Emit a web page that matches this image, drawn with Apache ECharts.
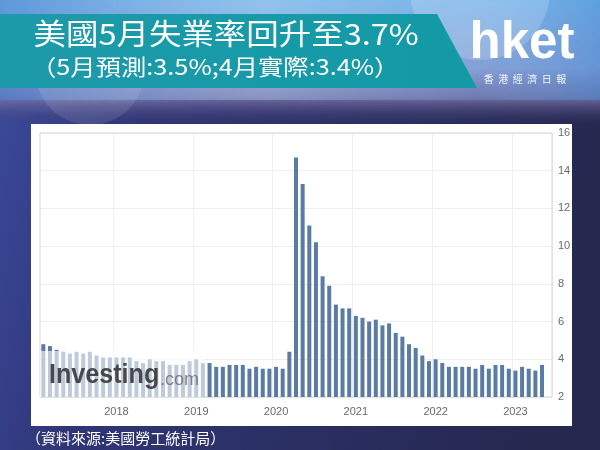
<!DOCTYPE html>
<html><head><meta charset="utf-8">
<script src="https://cdn.jsdelivr.net/npm/echarts@6/dist/echarts.min.js"></script>
<style>html,body{margin:0;padding:0;background:#2a2d5c;}#c{width:600px;height:450px;}</style>
</head><body><div id="c"></div>
<script>
// Release months (bar positions) – each bar is the rate published that month
const categories = [
 '2017-02','2017-03','2017-04','2017-05','2017-06','2017-07','2017-08','2017-09','2017-10','2017-11','2017-12',
 '2018-01','2018-02','2018-03','2018-04','2018-05','2018-06','2018-07','2018-08','2018-09','2018-10','2018-11','2018-12',
 '2019-01','2019-02','2019-03','2019-04','2019-05','2019-06','2019-07','2019-08','2019-09','2019-10','2019-11','2019-12',
 '2020-01','2020-02','2020-03','2020-04','2020-05','2020-06','2020-07','2020-08','2020-09','2020-10','2020-11','2020-12',
 '2021-01','2021-02','2021-03','2021-04','2021-05','2021-06','2021-07','2021-08','2021-09','2021-10','2021-11','2021-12',
 '2022-01','2022-02','2022-03','2022-04','2022-05','2022-06','2022-07','2022-08','2022-09','2022-10','2022-11','2022-12',
 '2023-01','2023-02','2023-03','2023-04','2023-05','2023-06'
];
// US unemployment rate (%)
const rates = [
 4.8,4.7,4.5,4.4,4.3,4.4,4.3,4.4,4.2,4.1,4.1,
 4.1,4.1,4.1,3.9,3.8,4.0,3.9,3.9,3.7,3.7,3.7,3.9,
 4.0,3.8,3.8,3.6,3.6,3.7,3.7,3.7,3.5,3.6,3.5,3.5,
 3.6,3.5,4.4,14.7,13.3,11.1,10.2,8.4,7.9,6.9,6.7,6.7,
 6.3,6.2,6.0,6.1,5.8,5.9,5.4,5.2,4.8,4.6,4.2,3.9,
 4.0,3.8,3.6,3.6,3.6,3.6,3.5,3.7,3.5,3.7,3.7,3.5,
 3.4,3.6,3.5,3.4,3.7
];
const yTicks = {min: 2, max: 16, interval: 2};
const titleMain = '美國5月失業率回升至3.7%';
const titleSub = '（5月預測:3.5%;4月實際:3.4%）';
const sourceText = '（資料來源:美國勞工統計局）';

const isJan = (i, v) => String(v).slice(5) === '01';
const chart = echarts.init(document.getElementById('c'), null, {renderer: 'canvas'});
chart.setOption({
  animation: false,
  backgroundColor: '#2a2d5c',
  grid: {left: 40, right: 48, top: 133, bottom: 53, show: true, borderColor: '#d6d6d6', borderWidth: 1, backgroundColor: 'transparent', z: 1},
  xAxis: {
    type: 'category', data: categories, boundaryGap: true,
    axisLine: {show: false}, axisTick: {show: false},
    axisLabel: {interval: isJan, formatter: v => v.slice(0, 4), color: '#6a6a6a', fontSize: 11, fontFamily: 'Liberation Sans', margin: 9},
    splitLine: {show: true, interval: isJan, lineStyle: {color: '#efefef', width: 1}}
  },
  yAxis: {
    type: 'value', position: 'right', min: yTicks.min, max: yTicks.max, interval: yTicks.interval,
    axisLine: {show: false}, axisTick: {show: false},
    axisLabel: {color: '#6a6a6a', fontSize: 11, fontFamily: 'Liberation Sans', margin: 6},
    splitLine: {lineStyle: {color: '#efefef', width: 1}}
  },
  series: [{
    type: 'bar', data: rates, barWidth: 4, itemStyle: {color: '#5a7ba3'}, z: 3
  }],
  graphic: [
    // page background
    {type: 'rect', z: -20, shape: {x: 0, y: 0, width: 600, height: 450},
      style: {fill: new echarts.graphic.LinearGradient(0, 0, 1, 0.3, [
        {offset: 0, color: '#3c4ca0'}, {offset: 0.25, color: '#303676'}, {offset: 1, color: '#25284f'}])}},
    {type: 'rect', z: -19, shape: {x: 0, y: 0, width: 600, height: 125},
      style: {fill: new echarts.graphic.LinearGradient(0, 0, 0, 1, [
        {offset: 0, color: 'rgba(120,180,232,1)'}, {offset: 0.55, color: 'rgba(140,160,215,0.95)'},
        {offset: 0.78, color: 'rgba(130,125,180,0.8)'}, {offset: 1, color: 'rgba(60,60,110,0)'}])}},
    {type: 'rect', z: -18, shape: {x: 0, y: 0, width: 600, height: 100},
      style: {fill: new echarts.graphic.LinearGradient(0, 0, 1, 0, [
        {offset: 0, color: 'rgba(70,130,210,0.55)'}, {offset: 0.45, color: 'rgba(190,220,245,0.35)'},
        {offset: 0.8, color: 'rgba(120,180,235,0.2)'}, {offset: 1, color: 'rgba(70,140,215,0.5)'}])}},
    {type: 'circle', z: -17, shape: {cx: 480, cy: -10, r: 70}, style: {fill: 'rgba(255,255,255,0.18)'}},
    {type: 'circle', z: -17, shape: {cx: 90, cy: 70, r: 55}, style: {fill: 'rgba(255,255,255,0.10)'}},
    // title band
    {type: 'polygon', z: -15, shape: {points: [[0, 14], [437, 14], [477, 88], [0, 88]]},
      style: {fill: new echarts.graphic.LinearGradient(0, 0, 1, 0, [
        {offset: 0, color: '#1d9aaa'}, {offset: 1, color: '#139aa6'}])}},
    {type: 'text', z: 5, x: 38, y: 34, scaleX: 1.12, originX: 38,
      style: {text: titleMain, fill: '#ffffff', font: '29px "Noto Sans CJK TC"', textVerticalAlign: 'middle', textBaseline: 'middle'}},
    {type: 'text', z: 5, x: 31, y: 67, scaleX: 1.15,
      style: {text: titleSub, fill: '#ffffff', font: '22px "Noto Sans CJK TC"', textVerticalAlign: 'middle', textBaseline: 'middle'}},
    // hket logo
    {type: 'text', z: 5, x: 522, y: 44,
      style: {text: 'hket', fill: '#ffffff', font: 'bold 51px "Liberation Sans"', textAlign: 'center', textVerticalAlign: 'middle', textBaseline: 'middle'}},
    {type: 'text', z: 5, x: 525, y: 79,
      style: {text: '香  港  經  濟  日  報', fill: 'rgba(255,255,255,0.9)', font: '10px "Noto Sans CJK TC"', textAlign: 'center', textVerticalAlign: 'middle', textBaseline: 'middle'}},
    // white chart panel
    {type: 'rect', z: -5, shape: {x: 31, y: 124, width: 541, height: 302}, style: {fill: '#ffffff'}},
    // watermark fade box and logo
    {type: 'rect', z: 10, shape: {x: 40, y: 351, width: 165, height: 46}, style: {fill: 'rgba(255,255,255,0.6)'}},
    {type: 'text', z: 11, x: 49, y: 376, scaleX: 0.93,
      style: {text: 'Investing', fill: 'rgba(55,55,60,0.9)', font: 'bold 27px "Liberation Sans"', textVerticalAlign: 'middle', textBaseline: 'middle'}},
    {type: 'text', z: 11, x: 160, y: 380,
      style: {text: '.com', fill: 'rgba(110,110,115,0.85)', font: '18px "Liberation Sans"', textVerticalAlign: 'middle', textBaseline: 'middle'}},
    // source
    {type: 'text', z: 5, x: 26, y: 438,
      style: {text: sourceText, fill: '#ffffff', font: '15px "Noto Sans CJK TC"', textVerticalAlign: 'middle', textBaseline: 'middle'}}
  ]
});
</script></body></html>
